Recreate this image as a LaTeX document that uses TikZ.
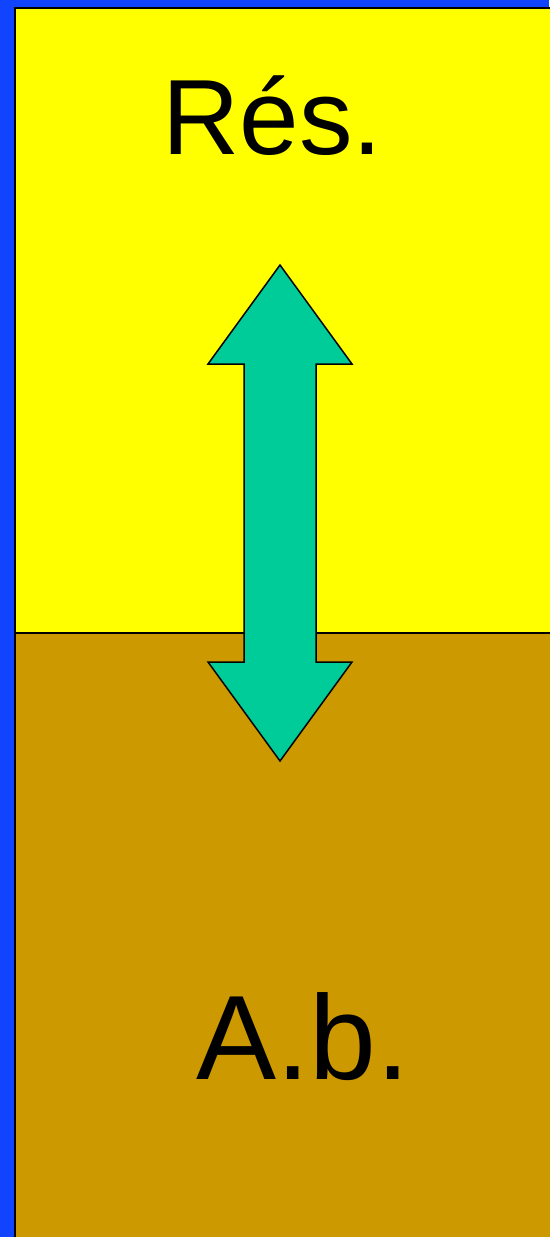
\documentclass[tikz,border=0pt]{standalone}
\usepackage{fontspec}
\setmainfont{Liberation Sans}
\definecolor{bgblue}{RGB}{17,68,255}
\definecolor{resyel}{RGB}{255,255,0}
\definecolor{abbrown}{RGB}{204,153,0}
\definecolor{arrgreen}{RGB}{0,204,153}
\tikzset{
  layer/.style={draw=black, line width=2pt},
  label/.style={inner sep=0pt, anchor=base, text=black},
  bigarrow/.style={draw=black, line width=1.5pt, fill=arrgreen, line join=miter}
}
\begin{document}
\begin{tikzpicture}[x=1pt,y=-1pt]
\useasboundingbox (0,0) rectangle (549,1237);
\fill[bgblue] (0,0) rectangle (549,1237);
\fill[resyel] (16,9) rectangle (560,633);
\fill[abbrown] (16,633) rectangle (560,1250);
\draw[line width=2pt] (15,1250) -- (15,8) -- (560,8);
\draw[line width=2pt] (15,633) -- (560,633);
\draw[bigarrow] (280,265) -- (352,364) -- (316,364) -- (316,662) -- (352,662)
  -- (280,761) -- (208,662) -- (244,662) -- (244,364) -- (208,364) -- cycle;
\node[label, font=\fontsize{107}{107}\selectfont] (res) at (272.5,154) {Rés.};
\node[label, font=\fontsize{120}{120}\selectfont] (ab) at (303,1079) {A.b.};
\end{tikzpicture}
\end{document}
